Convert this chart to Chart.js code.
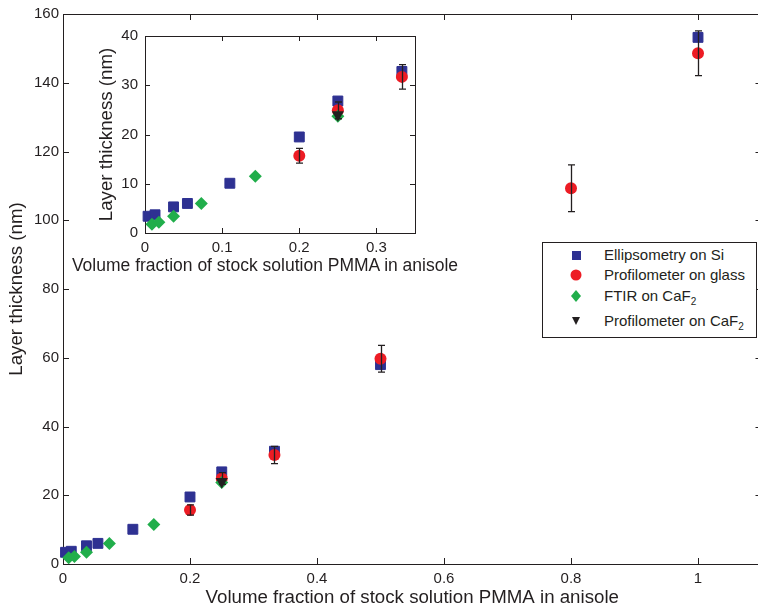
<!DOCTYPE html>
<html>
<head>
<meta charset="utf-8">
<script src="https://cdn.jsdelivr.net/npm/chart.js@4"></script>
<style>
  html, body { margin: 0; padding: 0; background: #fff; overflow: hidden; }
  #wrap { position: relative; width: 770px; height: 609px; }
  #main { position: absolute; left: 0; top: 0; }
  #inset { position: absolute; left: 90px; top: 20px; }
  #insetTitle { position: absolute; left: 15px; width: 500px; top: 255px; height: 22px; line-height: 22px;
    text-align: center; font: 17.5px "Liberation Sans", Arial, sans-serif; color: #231f20; white-space: nowrap; }
  #legend { position: absolute; left: 542px; top: 242px; width: 213px; height: 94px;
    border: 1px solid #231f20; background: #fff; font: 15px "Liberation Sans", Arial, sans-serif; color: #231f20; }
  #legend .row { position: absolute; left: 0; height: 20px; line-height: 20px; width: 100%; }
  #legend svg { position: absolute; left: 25px; top: 2px; }
  #legend span { position: absolute; left: 61px; white-space: nowrap; }
  #legend sub { font-size: 10px; vertical-align: -4px; line-height: 0; }
</style>
</head>
<body>
<div id="wrap">
  <canvas id="main" width="770" height="609"></canvas>
  <canvas id="inset" width="350" height="260"></canvas>
  <div id="insetTitle"></div>
  <div id="legend">
    <div class="row" style="top:2px"><svg width="16" height="16"><rect x="4" y="4" width="9" height="9" fill="#2e3192"/></svg><span>Ellipsometry on Si</span></div>
    <div class="row" style="top:22px"><svg width="16" height="16"><circle cx="8" cy="8" r="5.5" fill="#ed1c24"/></svg><span>Profilometer on glass</span></div>
    <div class="row" style="top:43px"><svg width="16" height="16"><polygon points="8,2 13,8 8,14 3,8" fill="#21ae4b"/></svg><span>FTIR on CaF<sub>2</sub></span></div>
    <div class="row" style="top:68px"><svg width="16" height="16"><polygon points="4,4 12,4 8,12" fill="#231f20"/></svg><span>Profilometer on CaF<sub>2</sub></span></div>
  </div>
</div>
<script>
// values
const ellipX = [0.004, 0.013, 0.037, 0.055, 0.11, 0.2, 0.25, 0.333, 0.5, 1.0];
const ellipY = [3.4, 3.7, 5.3, 6.0, 10.1, 19.5, 26.8, 32.8, 58.0, 153.2];

const glassX = [0.2, 0.25, 0.333, 0.5, 0.8, 1.0];
const glassY = [15.7, 24.9, 31.7, 59.7, 109.3, 148.6];
const glassErr = [1.5, 1.7, 2.5, 3.9, 6.8, 6.5];

const ftirX = [0.009, 0.018, 0.037, 0.073, 0.143, 0.25];
const ftirY = [1.8, 2.2, 3.4, 6.0, 11.5, 23.7];

const cafX = [0.25];
const cafY = [24.0];

const xTitle = 'Volume fraction of stock solution PMMA in anisole';
const yTitle = 'Layer thickness (nm)';

const FONT = '"Liberation Sans", Arial, sans-serif';
const INK = '#231f20';

document.getElementById('insetTitle').textContent = xTitle;

function pts(xs, ys, es, xmax) {
  return xs.map((v, i) => ({ x: v, y: ys[i], e: es ? es[i] : 0 }))
           .filter(p => p.x <= xmax);
}

function datasets(xmax) {
  return [
    { label: 'Ellipsometry on Si', data: pts(ellipX, ellipY, null, xmax), order: 4,
      pointStyle: 'rect', pointRadius: 7, backgroundColor: '#2e3192', borderColor: '#2e3192', borderWidth: 1 },
    { label: 'Profilometer on glass', data: pts(glassX, glassY, glassErr, xmax), order: 3,
      pointStyle: 'circle', pointRadius: 6, backgroundColor: '#ed1c24', borderColor: '#ed1c24', borderWidth: 0 },
    { label: 'FTIR on CaF₂', data: pts(ftirX, ftirY, null, xmax), order: 2,
      pointStyle: 'rectRot', pointRadius: 6.5, backgroundColor: '#21ae4b', borderColor: '#21ae4b', borderWidth: 0 },
    { label: 'Profilometer on CaF₂', data: pts(cafX, cafY, null, xmax), order: 1,
      pointStyle: 'triangle', rotation: 180, pointRadius: 7, backgroundColor: INK, borderColor: INK, borderWidth: 0 }
  ];
}

// box with inward ticks, MATLAB style
const frame = {
  id: 'frame',
  beforeDatasetsDraw(chart, args, opts) {
    const { ctx, chartArea: a, scales: { x, y } } = chart;
    const len = opts.len;
    ctx.save();
    ctx.strokeStyle = INK;
    ctx.lineWidth = 1;
    ctx.fillStyle = '#fff';
    ctx.fillRect(a.left, a.top, a.right - a.left, a.bottom - a.top);
    ctx.strokeRect(Math.round(a.left) + .5, Math.round(a.top) + .5, Math.round(a.right - a.left), Math.round(a.bottom - a.top));
    ctx.beginPath();
    x.ticks.forEach(t => {
      const px = Math.round(x.getPixelForValue(t.value)) + .5;
      ctx.moveTo(px, a.bottom); ctx.lineTo(px, a.bottom - len);
      ctx.moveTo(px, a.top); ctx.lineTo(px, a.top + len);
    });
    y.ticks.forEach(t => {
      const py = Math.round(y.getPixelForValue(t.value)) + .5;
      ctx.moveTo(a.left, py); ctx.lineTo(a.left + len, py);
      ctx.moveTo(a.right, py); ctx.lineTo(a.right - len, py);
    });
    ctx.stroke();
    ctx.restore();
  }
};

const errorBars = {
  id: 'errorBars',
  afterDatasetsDraw(chart) {
    const { ctx, scales: { x, y } } = chart;
    ctx.save();
    ctx.strokeStyle = INK;
    ctx.lineWidth = 1.3;
    chart.data.datasets.forEach(ds => {
      ds.data.forEach(p => {
        if (!p.e) return;
        const px = Math.round(x.getPixelForValue(p.x)) + .5;
        const y1 = y.getPixelForValue(p.y + p.e);
        const y2 = y.getPixelForValue(p.y - p.e);
        ctx.beginPath();
        ctx.moveTo(px, y1); ctx.lineTo(px, y2);
        ctx.moveTo(px - 3.5, y1); ctx.lineTo(px + 3.5, y1);
        ctx.moveTo(px - 3.5, y2); ctx.lineTo(px + 3.5, y2);
        ctx.stroke();
      });
    });
    ctx.restore();
  }
};

const fmt = v => String(+v.toFixed(2));

function makeChart(el, cfg) {
  return new Chart(el, {
    type: 'scatter',
    data: { datasets: datasets(cfg.xmax) },
    plugins: [frame, errorBars],
    options: {
      responsive: false,
      animation: false,
      clip: false,
      layout: { padding: cfg.pad },
      plugins: { legend: { display: false }, tooltip: { enabled: false }, frame: { len: cfg.tick } },
      scales: {
        x: {
          type: 'linear', min: 0, max: cfg.xmax,
          grid: { display: false, drawTicks: false }, border: { display: false },
          ticks: { stepSize: cfg.xstep, includeBounds: false, padding: cfg.xpad, color: INK,
                   font: { family: FONT, size: 15 }, callback: fmt, maxRotation: 0 },
          title: { display: cfg.xtitle, text: xTitle, color: INK, font: { family: FONT, size: 18.7 },
                   padding: { top: 0, bottom: 0 } },
          afterFit: s => { s.height = cfg.xh; }
        },
        y: {
          type: 'linear', min: 0, max: cfg.ymax,
          grid: { display: false, drawTicks: false }, border: { display: false },
          ticks: { stepSize: cfg.ystep, includeBounds: false, padding: cfg.ypad, color: INK,
                   font: { family: FONT, size: 15 }, callback: fmt },
          title: { display: true, text: yTitle, color: INK, font: { family: FONT, size: 18.7 },
                   padding: { top: 6, bottom: 0 } },
          afterFit: s => { s.width = cfg.yw; }
        }
      }
    }
  });
}

makeChart(document.getElementById('main'), {
  xmax: 1.1, xstep: 0.2, ymax: 160, ystep: 20, xtitle: true,
  pad: { left: 0, top: 14, right: 8.5, bottom: 0 },
  xh: 45, yw: 63, xpad: 6, ypad: 4, tick: 6
});

makeChart(document.getElementById('inset'), {
  xmax: 0.35, xstep: 0.1, ymax: 40, ystep: 10, xtitle: false,
  pad: { left: 0, top: 11, right: 25, bottom: 0 },
  xh: 47, yw: 55, xpad: 6, ypad: 7, tick: 5
});
</script>
</body>
</html>
